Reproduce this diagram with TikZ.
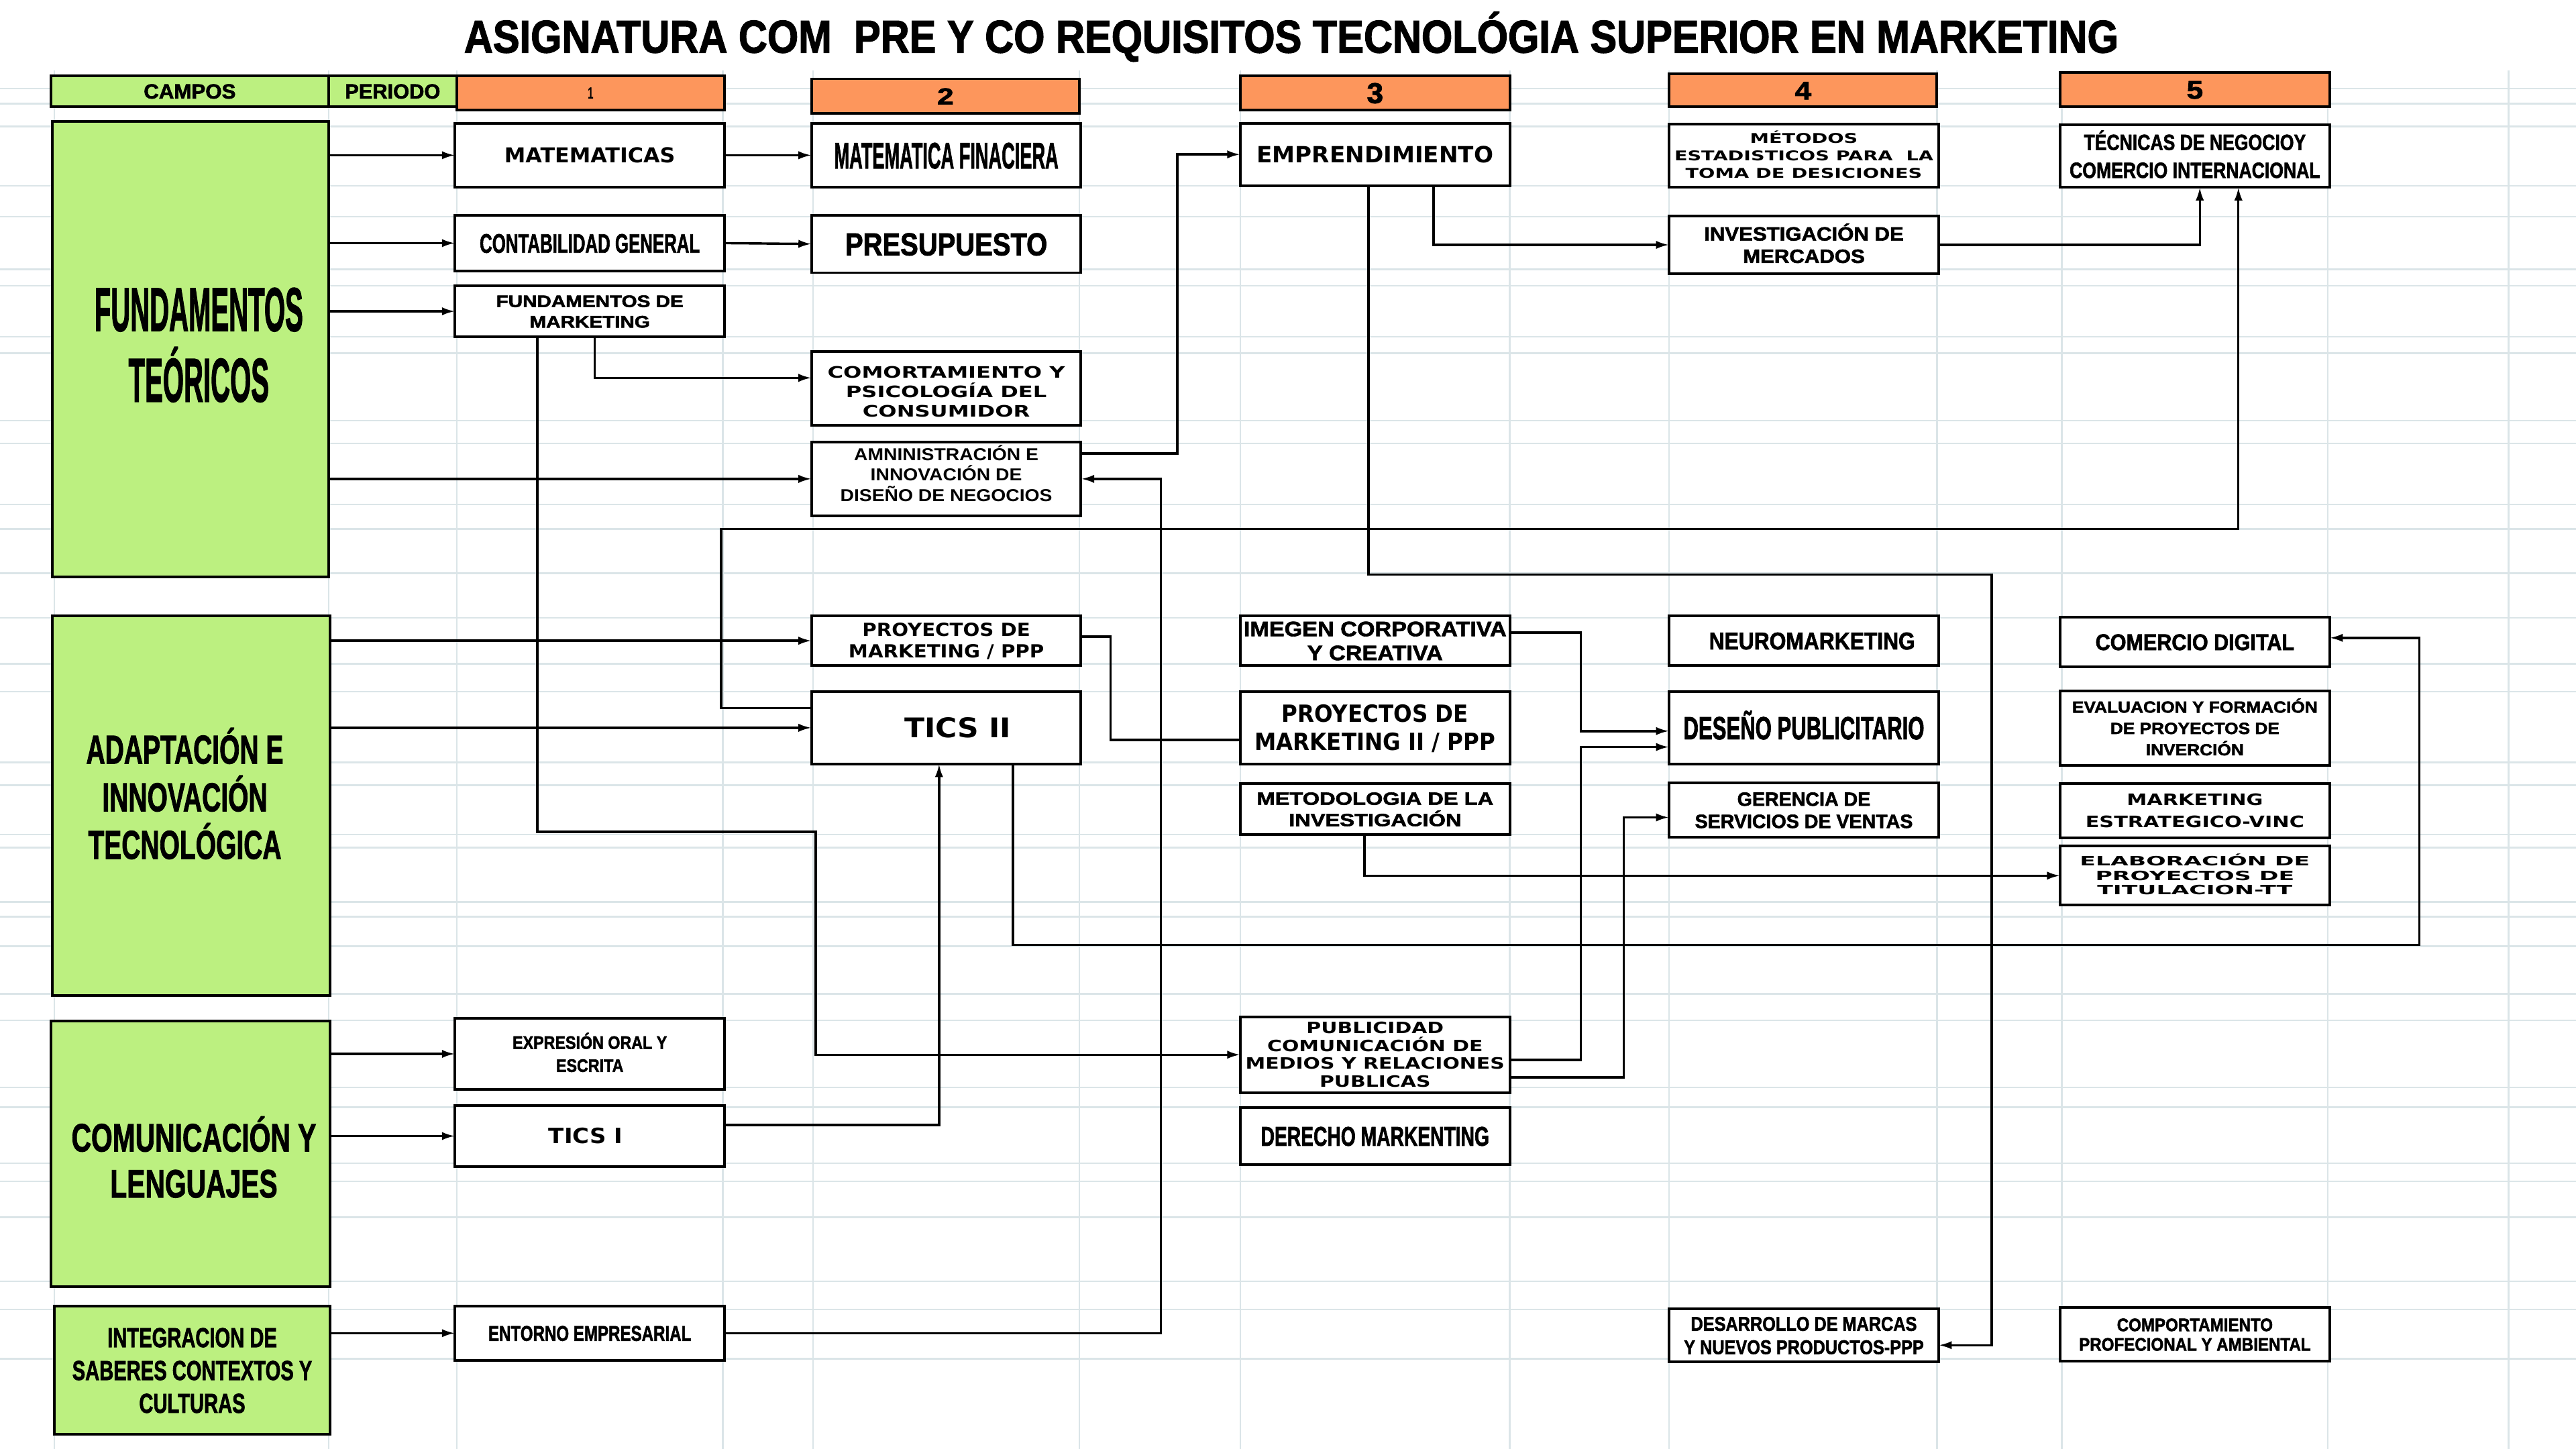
\documentclass[tikz,border=0pt]{standalone}
\usepackage{fontspec}
\usepackage{graphicx}
\usetikzlibrary{arrows.meta,calc}
\newfontfamily\famA{Liberation Sans}
\newfontfamily\famH{Liberation Sans}[FakeBold=2]
\newfontfamily\famD{DejaVu Sans}
\newcommand\myA{\famA\bfseries}
\newcommand\myH{\famH\bfseries}
\newcommand\myD{\famD\bfseries}
\newsavebox\tbox
\newlength\tsh
\newlength\tR
% [#1 upward shift] #2 font size, #3 line pitch, #4 target width, #5 family, #6 lines
\newcommand{\ft}[6][0]{%
 \sbox\tbox{#5\fontsize{#2pt}{#3pt}\selectfont\let\\\cr
   \vtop{\baselineskip=#3pt\lineskiplimit=-\maxdimen\lineskip=0pt\tabskip=0pt
     \halign{\hfil##\hfil\cr#6\crcr}}}%
 \pgfmathsetmacro\tsf{#4/\the\wd\tbox}%
 \pgfmathsetmacro\tnl{round(\the\dp\tbox/#3)}%
 \pgfmathsetlength\tsh{0.358*#2pt-0.5*\tnl*#3pt-#1pt}%
 \pgfmathsetlength\tR{0.5*(\tnl+1)*#3pt+abs(#1)*1pt}%
 \raisebox{0pt}[\dimexpr\tR+\tsh\relax][\dimexpr\tR-\tsh\relax]{\scalebox{\tsf}[1]{\usebox\tbox}}}
\definecolor{gfill}{RGB}{188,240,128}
\definecolor{ofill}{RGB}{253,150,92}
\definecolor{gridc}{RGB}{219,229,232}
\begin{document}
\begin{tikzpicture}[x=1pt,y=-1pt,
  crn/.style args={#1,#2,#3,#4}{at={({(#1+#3)/2},{(#2+#4)/2})},
     minimum width={(#3-#1)*1pt}, minimum height={(#4-#2)*1pt}},
  grid/.style={draw=gridc, line width=1pt},
  box/.style={draw=black, line width=1.6pt, fill=white, inner sep=0pt, outer sep=0pt},
  gbox/.style={box, fill=gfill},
  obox/.style={box, fill=ofill},
  ln/.style={draw=black, line width=1.4pt},
  arr/.style={ln, -{Latex[length=8pt,width=5pt]}}]
\fill[white] (0,0) rectangle (1568,882);
\useasboundingbox (0,0) rectangle (1568,882);
% spreadsheet grid
\foreach \x in {33,200,278,440,495,657,755,919,1016,1179,1255,1417,1527}
  \draw[grid] (\x,43) -- (\x,882);
\foreach \y in {54,63,77,113,132,164,174,205,215,256,270,307,322,349,376,404,421,464,478,508,516,549,558,576,605,621,662,674,708,719,741,780,797,827}
  \draw[grid] (0,\y) -- (1568,\y);
% title
\node[inner sep=0pt] (title) at (786,22) {\ft{28}{32}{1007}{\myH}{ASIGNATURA COM\ \ PRE Y CO REQUISITOS TECNOLÓGIA SUPERIOR EN MARKETING}};
% header
\node[gbox, crn={31,46,200,65}] (campos) {\ft{12.5}{14}{56}{\myH}{CAMPOS}};
\node[gbox, crn={200,46,278,65}] (periodo) {\ft{12.5}{14}{58}{\myH}{PERIODO}};
\node[obox, crn={278,46,441,67}] (p1) {\ft{10}{12}{3.5}{\myA}{1}};
\node[obox, crn={494,48,657,69}] (p2) {\ft{14}{16}{10}{\myH}{2}};
\node[obox, crn={755,46,919,67}] (p3) {\ft{17.5}{19}{10}{\myH}{3}};
\node[obox, crn={1016,45,1179,65}] (p4) {\ft{15.5}{18}{10}{\myH}{4}};
\node[obox, crn={1254,44,1418,65}] (p5) {\ft{15.5}{18}{10}{\myH}{5}};
% fields
\node[gbox, crn={32,74,200,351}] (FT) {\hspace*{10pt}\ft[3]{37.5}{43}{127}{\myH}{FUNDAMENTOS\\TEÓRICOS}};
\node[gbox, crn={32,375,201,606}] (ADA) {\ft[5.5]{24.5}{29}{120}{\myH}{ADAPTACIÓN E\\INNOVACIÓN\\TECNOLÓGICA}\hspace*{8pt}};
\node[gbox, crn={31,621.5,201,783}] (COMU) {\hspace*{4pt}\ft[-4]{24}{28}{149}{\myH}{COMUNICACIÓN Y\\LENGUAJES}};
\node[gbox, crn={33,795,201,873}] (INT) {\ft{16.7}{20}{146}{\myH}{INTEGRACION DE\\SABERES CONTEXTOS Y\\CULTURAS}};
% column 1
\node[box, crn={277,75,441,114}] (MAT) {\ft{12.5}{15}{104}{\myD}{MATEMATICAS}};
\node[box, crn={277,131,441,165}] (CON) {\ft{16.3}{19}{134}{\myH}{CONTABILIDAD GENERAL}};
\node[box, crn={277,174,441,205}] (FDM) {\ft{10.2}{12.5}{114}{\myH}{FUNDAMENTOS DE\\MARKETING}};
\node[box, crn={277,620,441,663}] (EXP) {\ft{11}{14}{94}{\myH}{EXPRESIÓN ORAL Y\\ESCRITA}};
\node[box, crn={277,673,441,710}] (TIC1) {\ft{12.8}{15}{45}{\myD}{TICS I}\hspace*{5pt}};
\node[box, crn={277,795,441,828}] (ENT) {\ft{13}{15}{123.5}{\myH}{ENTORNO EMPRESARIAL}};
% column 2
\node[box, crn={494,75,658,114}] (MFI) {\ft{22.3}{25}{136.5}{\myH}{MATEMATICA FINACIERA}};
\node[box, crn={494,131,658,166}] (PRE) {\ft{19.3}{22}{123}{\myH}{PRESUPUESTO}};
\node[box, crn={494,214,658,259}] (COM) {\ft[-2]{9.6}{11.7}{144.5}{\myD}{COMORTAMIENTO Y\\PSICOLOGÍA DEL\\CONSUMIDOR}};
\node[box, crn={494,269,658,314}] (AMN) {\ft[2.5]{10.5}{12.4}{129}{\myA}{AMNINISTRACIÓN E\\INNOVACIÓN DE\\DISEÑO DE NEGOCIOS}};
\node[box, crn={494,375,658,405}] (PDM) {\ft{11}{13}{119}{\myD}{PROYECTOS DE\\MARKETING / PPP}};
\node[box, crn={494,421,658,465}] (TIC2) {\hspace*{14pt}\ft{16.5}{19}{65}{\myD}{TICS II}};
% column 3
\node[box, crn={755,75,919,113}] (EMP) {\ft{13.6}{16}{144}{\myD}{EMPRENDIMIENTO}};
\node[box, crn={755,375,919,405}] (IMG) {\ft{12.7}{14.6}{160}{\myH}{IMEGEN CORPORATIVA\\Y CREATIVA}};
\node[box, crn={755,421,919,465}] (PD2) {\ft{14.4}{17.2}{146.6}{\myD}{PROYECTOS DE\\MARKETING II / PPP}};
\node[box, crn={755,477,919,508}] (MET) {\ft{10.8}{13}{144}{\myH}{METODOLOGIA DE LA\\INVESTIGACIÓN}};
\node[box, crn={755,619,919,665}] (PUB) {\ft{9.5}{10.9}{157.7}{\myD}{PUBLICIDAD\\COMUNICACIÓN DE\\MEDIOS Y RELACIONES\\PUBLICAS}};
\node[box, crn={755,674,919,709}] (DER) {\ft{16.5}{19}{139}{\myH}{DERECHO MARKENTING}};
% column 4
\node[box, crn={1016,75.6,1180,114}] (MES) {\ft{8.2}{10.5}{157.6}{\myD}{MÉTODOS\\ESTADISTICOS PARA\ \ LA\\TOMA DE DESICIONES}};
\node[box, crn={1016,131.5,1180,166.6}] (INV) {\ft{11.7}{13.6}{121.5}{\myH}{INVESTIGACIÓN DE\\MERCADOS}};
\node[box, crn={1016,375,1180,405}] (NEU) {\hspace*{10pt}\ft{14.7}{17}{125.4}{\myH}{NEUROMARKETING}};
\node[box, crn={1016,421,1180,465}] (DSP) {\ft{19.5}{22}{146.6}{\myH}{DESEÑO PUBLICITARIO}};
\node[box, crn={1016,476.5,1180,509.6}] (GER) {\ft{11.7}{13.5}{132.6}{\myH}{GERENCIA DE\\SERVICIOS DE VENTAS}};
\node[box, crn={1016,796.6,1180,829}] (DES) {\ft{12.1}{14.2}{146}{\myH}{DESARROLLO DE MARCAS\\Y NUEVOS PRODUCTOS-PPP}};
% column 5
\node[box, crn={1254,76,1418,114}] (TEC) {\ft{13.4}{17}{152.5}{\myH}{TÉCNICAS DE NEGOCIOY\\COMERCIO INTERNACIONAL}};
\node[box, crn={1254,375.5,1418,406}] (CD) {\ft{13.8}{16}{121}{\myH}{COMERCIO DIGITAL}};
\node[box, crn={1254,420.5,1418,466}] (EVA) {\ft{9.8}{13}{149.4}{\myH}{EVALUACION Y FORMACIÓN\\DE PROYECTOS DE\\INVERCIÓN}};
\node[box, crn={1254,477,1418,510}] (MKE) {\ft{9.6}{13.1}{133.2}{\myD}{MARKETING\\ESTRATEGICO-VINC}};
\node[box, crn={1254,515,1418,551}] (ELA) {\ft{7.8}{8.9}{140}{\myD}{ELABORACIÓN DE\\PROYECTOS DE\\TITULACION-TT}};
\node[box, crn={1254,796,1418,828.5}] (CPA) {\ft{11}{11.9}{141}{\myH}{COMPORTAMIENTO\\PROFECIONAL Y AMBIENTAL}};
% bend points
\coordinate (b1) at (496.5,506.3);
\coordinate (b3) at (439,322);
\coordinate (b4) at (1212.4,349.7);
\coordinate (b5) at (676,420);
\coordinate (b6) at (1472.7,575.2);
% connectors
\draw[arr] (FT.east |- MAT.west) -- (MAT.west);
\draw[arr] (FT.east |- CON.west) -- (CON.west);
\draw[arr] (FT.east |- FDM.west) -- (FDM.west);
\draw[arr] (FT.east |- AMN.west) -- (AMN.west);
\draw[arr] (MAT.east) -- (MFI.west);
\draw[arr] (CON.east) -- (PRE.west);
\draw[arr] ($(FDM.south)+(3,0)$) |- ($(COM.west)+(0,-6.5)$);
\draw[arr] ($(FDM.south)+(-32,0)$) |- (b1) |- (PUB.west);
\draw[arr] ($(AMN.east)+(0,-15.5)$) -| ($(EMP.west)+(-38.4,0)$) -- (EMP.west);
\draw[arr] (ENT.east) -| ($(AMN.east)+(48.5,0)$) -- (AMN.east);
\draw[arr] ($(TIC2.west)+(0,-12)$) -| (b3) -| ($(TEC.south)+(26.5,0)$);
\draw[arr] (INV.east) -| ($(TEC.south)+(3,0)$);
\draw[arr] ($(EMP.south)+(35.6,0)$) |- (INV.west);
\draw[arr] ($(EMP.south)+(-4,0)$) |- (b4) |- ($(DES.east)+(0,6)$);
\draw[ln] ($(PDM.east)+(0,-2.5)$) -| (b5) |- ($(PD2.west)+(0,7.4)$);
\draw[arr] (ADA.east |- PDM.west) -- (PDM.west);
\draw[arr] (ADA.east |- TIC2.west) -- (TIC2.west);
\draw[arr] ($(TIC1.east)+(0,-6.7)$) -| ($(TIC2.south)+(-4.4,0)$);
\draw[arr] ($(TIC2.south)+(40.5,0)$) |- (b6) |- ($(CD.east)+(0,-2.5)$);
\draw[arr] ($(IMG.east)+(0,-5)$) -| ($(DSP.west)+(-53.8,2)$) -- ($(DSP.west)+(0,2)$);
\draw[arr] ($(PUB.east)+(0,3.2)$) -| ($(DSP.west)+(-53.8,11.7)$) -- ($(DSP.west)+(0,11.7)$);
\draw[arr] ($(PUB.east)+(0,13.8)$) -| ($(GER.west)+(-27.6,4.5)$) -- ($(GER.west)+(0,4.5)$);
\draw[arr] ($(MET.south)+(-6.4,0)$) |- (ELA.west);
\draw[arr] (COMU.east |- EXP.west) -- (EXP.west);
\draw[arr] (COMU.east |- TIC1.west) -- (TIC1.west);
\draw[arr] (INT.east |- ENT.west) -- (ENT.west);
\end{tikzpicture}
\end{document}
